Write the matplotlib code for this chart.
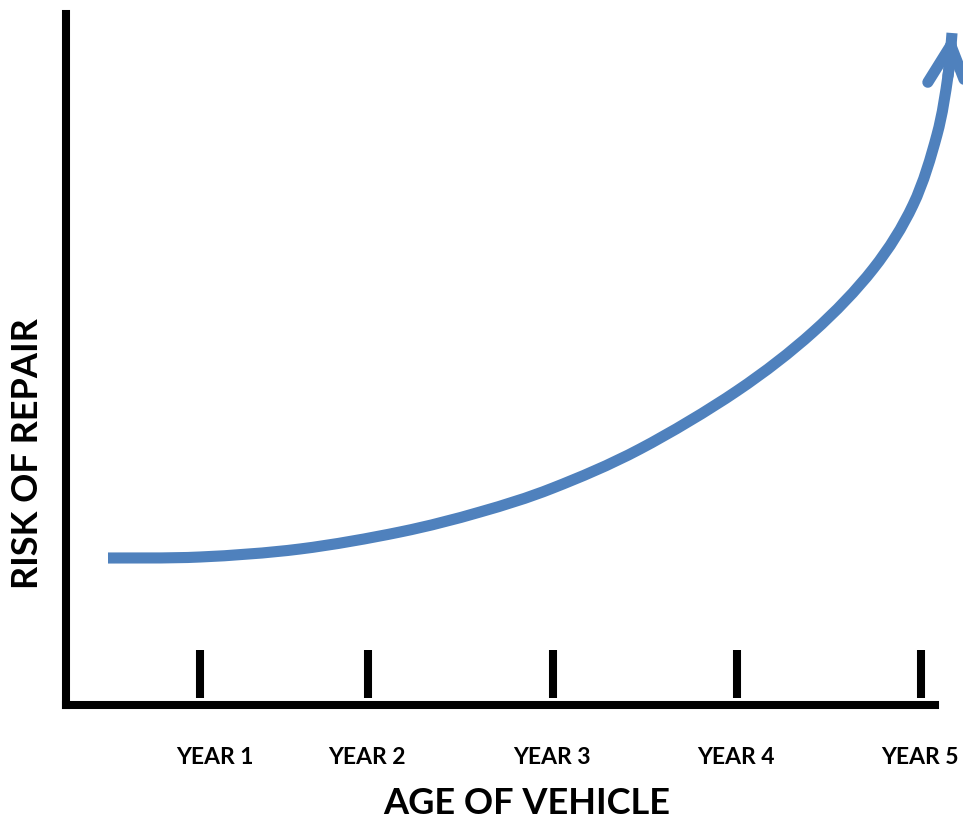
import matplotlib
matplotlib.use("Agg")
import matplotlib.pyplot as plt
from matplotlib.path import Path
from matplotlib.patches import PathPatch, FancyArrowPatch
import numpy as np

plt.rcParams['font.family'] = ['Lato', 'DejaVu Sans']

# ---- data ----
year_labels = ["YEAR 1", "YEAR 2", "YEAR 3", "YEAR 4", "YEAR 5"]
year_ticks = [1.0, 1.913, 2.918, 3.918, 4.918]
label_x = [1.082, 1.908, 2.913, 3.913, 4.913]
curve_x = [0.500, 1.000, 1.543, 2.087, 2.522, 2.918, 3.391, 3.918,
           4.332, 4.658, 4.875, 5.005, 5.065, 5.087]
curve_y = [1.47, 1.48, 1.56, 1.73, 1.93, 2.17, 2.56, 3.14,
           3.73, 4.36, 5.00, 5.70, 6.29, 6.72]
x_title = "AGE OF VEHICLE"
y_title = "RISK OF REPAIR"

BLUE = "#4F81BD"
W, H = 963, 821
fig = plt.figure(figsize=(W / 100, H / 100), dpi=100)
ax = fig.add_axes([66 / W, (H - 705) / H, (935 - 66) / W, (705 - 14) / H])

ax.set_xlim(1 - 134 / 184, 1 + 735 / 184)
ax.set_ylim(0, (705 - 14) / 100)

for s in ["top", "right"]:
    ax.spines[s].set_visible(False)
for s in ["left", "bottom"]:
    ax.spines[s].set_linewidth(5.8)
    ax.spines[s].set_color("black")
ax.set_xticks([])
ax.set_yticks([])

# tick marks above the axis
ax.vlines(year_ticks, 0.07, 0.55, colors="black", linewidth=5.8)

# smooth curve through the points (Catmull-Rom rendered as cubic Bezier)
P = np.column_stack([curve_x, curve_y])
Pe = np.vstack([P[0], P, P[-1]])
verts = [P[0]]
codes = [Path.MOVETO]
for i in range(1, len(Pe) - 2):
    p0, p1, p2, p3 = Pe[i - 1], Pe[i], Pe[i + 1], Pe[i + 2]
    verts += [p1 + (p2 - p0) / 6, p2 - (p3 - p1) / 6, p2]
    codes += [Path.CURVE4] * 3
curve_path = Path(np.array(verts), codes)
ax.add_patch(PathPatch(curve_path, facecolor="none", edgecolor=BLUE,
                       linewidth=8, capstyle="butt", joinstyle="round",
                       clip_on=False))

# arrow head on the last segment
head_path = Path(np.array(verts[-4:]), [Path.MOVETO] + [Path.CURVE4] * 3)
arrow = FancyArrowPatch(path=head_path,
                        arrowstyle="->,head_length=28,head_width=14",
                        mutation_scale=1, color=BLUE, linewidth=8,
                        capstyle="round", joinstyle="round", clip_on=False)
ax.add_patch(arrow)

for x, lab in zip(label_x, year_labels):
    ax.text(x, -0.52, lab, ha="center", va="center", fontsize=16.5,
            fontweight="bold", clip_on=False)

fig.text(527 / W, 1 - 803 / H, x_title, ha="center", va="center",
         fontsize=26, fontweight="bold")
fig.text(27 / W, 1 - 454 / H, y_title, ha="center", va="center",
         fontsize=26, fontweight="bold", rotation=90)

fig.savefig("out.png", dpi=100)
